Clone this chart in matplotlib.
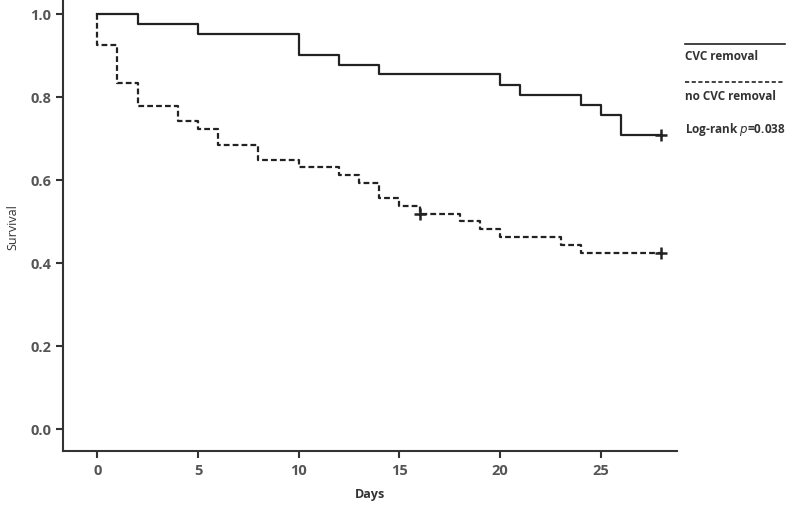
"""
Kaplan-Meier survival curves: CVC removal vs no CVC removal.
"""

import matplotlib
matplotlib.use("Agg")
import matplotlib.pyplot as plt

# Survival data (step functions, steps-post)
removal_days = [0, 2, 5, 10, 12, 14, 20, 21, 24, 25, 26, 28]
removal_surv = [1.0, 0.976, 0.951, 0.902, 0.878, 0.854, 0.829, 0.805, 0.780, 0.756, 0.707, 0.707]

no_removal_days = [0, 0, 1, 2, 4, 5, 6, 8, 10, 12, 13, 14, 15, 16, 18, 19, 20, 23, 24, 28]
no_removal_surv = [1.0, 0.926, 0.833, 0.778, 0.741, 0.722, 0.685, 0.648, 0.630, 0.611,
                   0.593, 0.556, 0.537, 0.519, 0.500, 0.481, 0.462, 0.443, 0.424, 0.424]

# censored observations
removal_censor = ([28], [0.707])
no_removal_censor = ([16, 28], [0.519, 0.424])

x_ticks = [0, 5, 10, 15, 20, 25]
y_ticks = [0.0, 0.2, 0.4, 0.6, 0.8, 1.0]

plt.rcParams["font.family"] = ["Open Sans", "DejaVu Sans"]

fig = plt.figure(figsize=(8, 5.06), dpi=100)
ax = fig.add_axes([0.0791, 0.1073, 0.7668, 0.889])

dark = "#222222"
ax.plot(removal_days, removal_surv, drawstyle="steps-post", color=dark, lw=1.6)
ax.plot(no_removal_days, no_removal_surv, drawstyle="steps-post", color=dark, lw=1.6,
        linestyle=(0, (2.6, 1.4)))
ax.plot(*removal_censor, linestyle="none", marker="+", ms=8, mew=1.8, color=dark)
ax.plot(*no_removal_censor, linestyle="none", marker="+", ms=8, mew=1.8, color=dark)

ax.set_xlim(-1.69, 28.77)
ax.set_ylim(-0.0523, 1.0313)
ax.set_xticks(x_ticks)
ax.set_yticks(y_ticks)
ax.set_yticklabels([f"{v:.1f}" for v in y_ticks])

for side in ["top", "right"]:
    ax.spines[side].set_visible(False)
for side in ["left", "bottom"]:
    ax.spines[side].set_linewidth(1.5)
    ax.spines[side].set_color("#333333")

ax.tick_params(direction="out", length=5, width=1.5, color="#333333",
               labelsize=10.5, labelcolor="#555555")
for lbl in ax.get_xticklabels() + ax.get_yticklabels():
    lbl.set_fontweight("bold")


def fx(px):
    return px / 800


def fy(py):
    return 1 - py / 506


fig.text(fx(370), fy(495), "Days", fontsize=9, fontweight="bold", color="#333333",
         ha="center", va="center")
ax.set_ylabel("Survival", fontsize=9, color="#333333", labelpad=8)

# legend drawn by hand to the right of the axes
fig.add_artist(plt.Line2D([fx(685), fx(785)], [fy(45), fy(45)], color=dark, lw=1.2))
fig.text(fx(685), fy(57), "CVC removal", fontsize=8.5, fontweight="bold", color="#333333",
         va="center", ha="left")
fig.add_artist(plt.Line2D([fx(685), fx(785)], [fy(83), fy(83)], color=dark, lw=1.2,
                          linestyle=(0, (2.5, 1.5))))
fig.text(fx(685), fy(96), "no CVC removal", fontsize=8.5, fontweight="bold", color="#333333",
         va="center", ha="left")
fig.text(fx(685), fy(129), "Log-rank $\\it{p}$=0.038", fontsize=8.5, fontweight="bold",
         color="#333333", va="center", ha="left")

fig.savefig("out.png", dpi=100)
